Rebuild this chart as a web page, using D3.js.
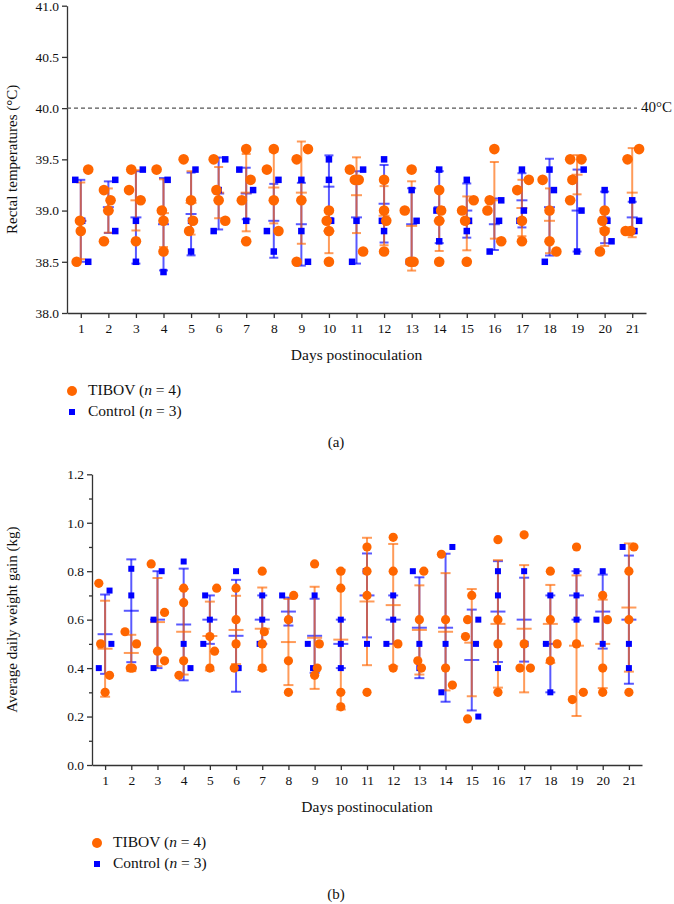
<!DOCTYPE html>
<html>
<head>
<meta charset="utf-8">
<script src="https://cdn.jsdelivr.net/npm/d3@7"></script>
<style>
  body { margin: 0; background: #fff; }
  svg text { font-family: "Liberation Serif", "DejaVu Serif", serif; fill: #111; }
  .axis path, .axis line { stroke: #333; stroke-width: 1.3; }
  .axis text { font-size: 13.5px; }
</style>
</head>
<body>
<svg id="chart" width="674" height="904"></svg>
<script>
// days on the x axis
const days = d3.range(1, 22);

// (a) rectal temperatures, one list per day
const tempTibov = [
  [38.5,38.9,38.8,39.4],[38.7,39.2,39.1,39.0],[39.4,39.2,39.1,38.7],[39.4,39.0,38.9,38.6],
  [39.5,39.1,38.9,38.8],[39.5,39.2,39.1,38.9],[39.6,39.3,39.1,38.7],[39.4,39.6,39.1,38.8],
  [39.5,39.6,39.1,38.5],[39.0,38.9,38.8,38.5],[39.4,39.3,39.3,38.6],[39.3,39.0,38.9,38.6],
  [39.4,39.0,38.5,38.5],[39.2,39.0,38.9,38.5],[39.0,39.1,38.9,38.5],[39.6,39.1,39.0,38.7],
  [39.3,39.2,38.9,38.7],[39.3,39.0,38.7,38.6],[39.5,39.5,39.3,39.1],[39.0,38.9,38.8,38.6],
  [39.6,39.5,38.8,38.8]
];
const tempTibovJit = [
  [-0.15,-0.03,0,0.27],[-0.16,-0.16,0.08,0],[-0.17,-0.25,0.17,0],[-0.25,-0.06,0,0],
  [-0.27,0,0.07,-0.07],[-0.18,-0.08,0,0.24],[0,0.16,-0.16,0],[-0.25,0,0,0.17],
  [-0.17,0.24,0,-0.17],[0,-0.08,0,0],[-0.24,-0.06,0.08,0.24],[0,0,0.08,0],
  [0,-0.25,-0.05,0.07],[0,0.07,0,0],[-0.17,0.25,-0.06,0],[0,-0.17,-0.25,0.25],
  [0.25,-0.17,0,0],[-0.25,0,0,0.25],[-0.25,0.16,-0.17,-0.25],[0,-0.08,0,-0.17],
  [0.25,-0.17,-0.24,-0.06]
];
const tempCtrl = [
  [39.3,38.9,38.5],[39.0,39.3,38.8],[39.4,38.9,38.5],[39.3,38.9,38.4],[39.4,38.9,38.6],
  [39.5,39.2,38.8],[39.4,39.2,38.9],[39.3,38.8,38.6],[39.3,38.8,38.5],[39.5,39.3,38.9],
  [39.4,38.9,38.5],[39.5,38.9,38.8],[39.2,38.9,38.5],[39.4,39.0,38.7],[39.3,38.9,38.8],
  [39.1,38.9,38.6],[39.4,39.0,38.9],[39.4,39.2,38.5],[39.4,39.0,38.6],[39.2,38.9,38.7],
  [39.1,38.9,38.8]
];
const tempCtrlJit = [
  [-0.2,0.05,0.27],[0,0.25,0.25],[0.25,0,0],[0.15,0,0],[0.16,0,0],
  [0.24,0,-0.18],[-0.25,0.25,0],[0.17,-0.25,0],[0,0,0.24],[0,0,0.08],
  [0.24,0,-0.16],[0,-0.08,0],[0,0.18,-0.1],[0,-0.1,0],[0,0.08,0],
  [0.25,0.17,-0.17],[0,0.07,-0.09],[0,0.16,-0.17],[0.24,0.16,0],[0,0.1,0.25],
  [0,0.25,0.08]
];
const tempTicks = [38.0, 38.5, 39.0, 39.5, 40.0, 40.5, 41.0];
const feverLine = 40.0;

// (b) average daily weight gain (kg)
const gainTibov = [
  [0.75,0.50,0.37,0.30],[0.55,0.40,0.40,0.50],[0.83,0.63,0.47,0.43],[0.73,0.67,0.43,0.37],
  [0.73,0.53,0.47,0.40],[0.73,0.60,0.50,0.40],[0.80,0.55,0.50,0.40],[0.70,0.60,0.43,0.30],
  [0.83,0.50,0.40,0.37],[0.80,0.73,0.30,0.24],[0.90,0.80,0.70,0.30],[0.94,0.80,0.50,0.40],
  [0.80,0.60,0.43,0.40],[0.87,0.60,0.40,0.33],[0.70,0.60,0.53,0.19],[0.93,0.60,0.50,0.30],
  [0.95,0.50,0.40,0.40],[0.80,0.60,0.50,0.43],[0.90,0.50,0.30,0.27],[0.70,0.60,0.40,0.30],
  [0.90,0.80,0.60,0.30]
];
const gainTibovJit = [
  [-0.24,-0.17,0.17,0],[-0.24,-0.04,0.04,0.2],[-0.24,0.27,0,0.27],[0,0,0,-0.18],
  [0.26,0,0.18,0],[0,0,0,-0.07],[0,0.08,0,0],[0.2,0,0,0],
  [0,0.18,0.1,0],[0,0,0,0],[0,0,0,0],[0,0,0.18,0],
  [0.17,0,-0.06,0.08],[-0.16,0,0,0.26],[0,-0.16,-0.24,-0.16],[0,0,0,0],
  [0,0,-0.16,0.24],[0,0,0.26,0],[0,0,0.26,-0.16],[0,0.18,0,0],
  [0.19,0,0,0]
];
const gainCtrl = [
  [0.40,0.72,0.50],[0.81,0.70,0.40],[0.60,0.80,0.40],[0.84,0.50,0.40],[0.70,0.60,0.50],
  [0.80,0.40,0.40],[0.70,0.60,0.50],[0.70,0.60,0.60],[0.70,0.50,0.40],[0.60,0.50,0.40],
  [0.80,0.80,0.50],[0.70,0.60,0.50],[0.80,0.50,0.40],[0.90,0.50,0.30],[0.60,0.50,0.20],
  [0.80,0.70,0.40],[0.80,0.50,0.50],[0.70,0.50,0.30],[0.80,0.70,0.60],[0.80,0.60,0.50],
  [0.90,0.50,0.40]
];
const gainCtrlJit = [
  [-0.24,0.17,0.24],[0,0,0],[-0.15,0.16,-0.15],[0,0,0.26],[-0.18,0,-0.25],
  [0,0,0.1],[0,0,-0.1],[-0.24,0,0.04],[0,-0.26,-0.06],[0,0,0],
  [-0.05,0,0],[0,0,-0.26],[-0.25,0,0],[0.26,0,-0.16],[0.25,0.16,0.25],
  [0,0,0],[0,0,0.05],[0,-0.17,0],[0,0,0],[0,-0.24,0],
  [-0.24,0,0]
];
const gainTicks = [0.0, 0.2, 0.4, 0.6, 0.8, 1.0, 1.2];
const gainMinor = [0.1, 0.3, 0.5, 0.7, 0.9, 1.1];

const seriesNames = ['TIBOV', 'Control'];
const seriesN = [4, 3];

const ORANGE = '#ff6600';
const BLUE = '#0000ff';
const SERIF = '"Liberation Serif", "DejaVu Serif", serif';

let svg = d3.select('#chart');
svg.append('rect').attr('width', 674).attr('height', 904).attr('fill', '#fff');

function drawPanel(p) {
  let g = svg.append('g').attr('font-family', SERIF);

  let x = d3.scaleLinear().domain([0.5, 21.5]).range([p.left, p.right]);
  let y = d3.scaleLinear().domain(p.domain).range([p.bottom, p.top]);

  // axes
  g.append('g').attr('class', 'axis')
    .attr('transform', `translate(${p.left},0)`)
    .call(d3.axisLeft(y).tickValues(p.ticks).tickFormat(d3.format('.1f')).tickSize(5).tickSizeOuter(0).tickPadding(3))
    .attr('font-family', SERIF);
  if (p.minor) {
    g.append('g').attr('class', 'axis')
      .attr('transform', `translate(${p.left},0)`)
      .call(d3.axisLeft(y).tickValues(p.minor).tickFormat('').tickSize(3).tickSizeOuter(0))
      .select('.domain').remove();
  }
  g.append('g').attr('class', 'axis')
    .attr('transform', `translate(0,${p.bottom})`)
    .call(d3.axisBottom(x).tickValues(days).tickSize(5).tickSizeOuter(0).tickPadding(5))
    .attr('font-family', SERIF);

  g.append('text')
    .attr('x', (p.left + p.right) / 2).attr('y', p.bottom + 43)
    .attr('text-anchor', 'middle').attr('dominant-baseline', 'middle')
    .attr('font-size', 15.5)
    .text('Days postinoculation');

  g.append('text')
    .attr('transform', `translate(14,${(p.top + p.bottom) / 2}) rotate(-90)`)
    .attr('text-anchor', 'middle').attr('dominant-baseline', 'middle')
    .attr('font-size', 15)
    .text(p.ylabel);

  if (p.refLine != null) {
    g.append('line')
      .attr('x1', p.left).attr('x2', p.right - 9)
      .attr('y1', y(p.refLine)).attr('y2', y(p.refLine))
      .attr('stroke', '#555').attr('stroke-width', 1.3).attr('stroke-dasharray', '4,3');
    g.append('text')
      .attr('x', p.right - 5).attr('y', y(p.refLine))
      .attr('dominant-baseline', 'middle').attr('font-size', 15)
      .text('40°C');
  }

  // error bars (mean +/- SD)
  let groups = [
    {vals: p.ctrl, color: BLUE},
    {vals: p.tibov, color: ORANGE}
  ];
  groups.forEach((s) => {
    let stats = s.vals.map((v, i) => ({day: days[i], m: d3.mean(v), sd: d3.deviation(v)}));
    let eb = g.append('g').attr('stroke', s.color).attr('stroke-opacity', 0.65).attr('stroke-width', 2);
    eb.selectAll('line.v').data(stats).enter().append('line')
      .attr('x1', d => x(d.day)).attr('x2', d => x(d.day))
      .attr('y1', d => y(d.m - d.sd)).attr('y2', d => y(d.m + d.sd));
    eb.selectAll('line.cap1').data(stats).enter().append('line')
      .attr('x1', d => x(d.day) - p.cap).attr('x2', d => x(d.day) + p.cap)
      .attr('y1', d => y(d.m + d.sd)).attr('y2', d => y(d.m + d.sd));
    eb.selectAll('line.cap2').data(stats).enter().append('line')
      .attr('x1', d => x(d.day) - p.cap).attr('x2', d => x(d.day) + p.cap)
      .attr('y1', d => y(d.m - d.sd)).attr('y2', d => y(d.m - d.sd));
    eb.selectAll('line.mean').data(stats).enter().append('line')
      .attr('x1', d => x(d.day) - p.meanW).attr('x2', d => x(d.day) + p.meanW)
      .attr('y1', d => y(d.m)).attr('y2', d => y(d.m));
  });

  // points
  let ctrlPts = [];
  p.ctrl.forEach((v, i) => v.forEach((val, j) => ctrlPts.push({x: days[i] + p.ctrlJit[i][j], y: val})));
  let tibPts = [];
  p.tibov.forEach((v, i) => v.forEach((val, j) => tibPts.push({x: days[i] + p.tibovJit[i][j], y: val})));

  g.selectAll('rect.ctrl').data(ctrlPts).enter().append('rect')
    .attr('class', 'ctrl')
    .attr('x', d => x(d.x) - p.sq / 2).attr('y', d => y(d.y) - p.sq / 2)
    .attr('width', p.sq).attr('height', p.sq)
    .attr('fill', BLUE);

  g.selectAll('circle.tib').data(tibPts).enter().append('circle')
    .attr('class', 'tib')
    .attr('cx', d => x(d.x)).attr('cy', d => y(d.y))
    .attr('r', p.r)
    .attr('fill', ORANGE);

  // legend
  let lx = p.left + 5;
  let ly = p.bottom + 78;
  g.append('circle').attr('cx', lx).attr('cy', ly).attr('r', 5).attr('fill', ORANGE);
  g.append('rect').attr('x', lx - 3).attr('y', ly + 21 - 3).attr('width', 6).attr('height', 6).attr('fill', BLUE);
  seriesNames.forEach((name, i) => {
    let t = g.append('text')
      .attr('x', lx + 16).attr('y', ly + i * 21)
      .attr('dominant-baseline', 'middle').attr('font-size', 15.5);
    t.append('tspan').text(`${name} (`);
    t.append('tspan').attr('font-style', 'italic').text('n');
    t.append('tspan').text(` = ${seriesN[i]})`);
  });

  g.append('text')
    .attr('x', 336).attr('y', p.bottom + 131)
    .attr('text-anchor', 'middle').attr('dominant-baseline', 'middle')
    .attr('font-size', 15)
    .text(p.tag);
}

drawPanel({
  left: 67, right: 646, top: 5.7, bottom: 313,
  domain: [38, 41], ticks: tempTicks,
  ylabel: 'Rectal temperatures (°C)',
  tibov: tempTibov, tibovJit: tempTibovJit,
  ctrl: tempCtrl, ctrlJit: tempCtrlJit,
  refLine: feverLine,
  r: 5.3, sq: 6.5, cap: 4.5, meanW: 5.5,
  tag: '(a)'
});

drawPanel({
  left: 92, right: 642, top: 474.3, bottom: 765,
  domain: [0, 1.2], ticks: gainTicks, minor: gainMinor,
  ylabel: 'Average daily weight gain (kg)',
  tibov: gainTibov, tibovJit: gainTibovJit,
  ctrl: gainCtrl, ctrlJit: gainCtrlJit,
  r: 4.6, sq: 6, cap: 5, meanW: 7.5,
  tag: '(b)'
});
</script>
</body>
</html>
